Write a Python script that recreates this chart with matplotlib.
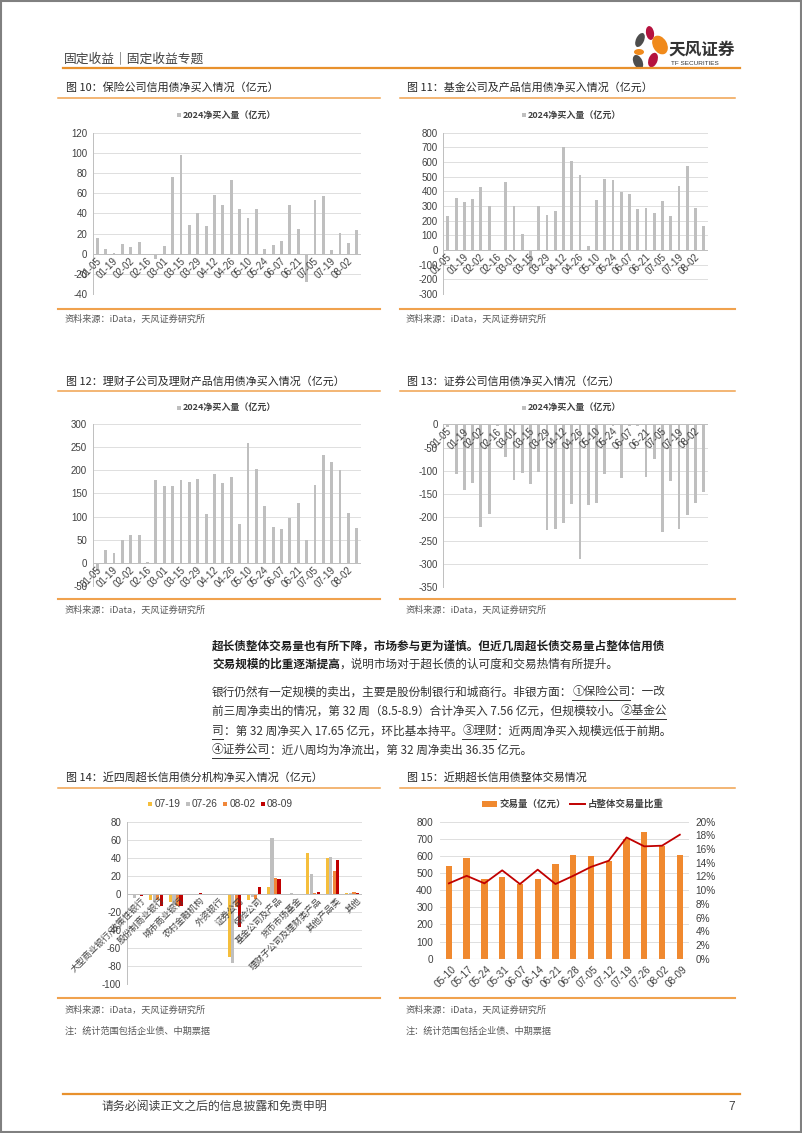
#!/usr/bin/env python3
from __future__ import annotations

import matplotlib

matplotlib.use("Agg")
import matplotlib.pyplot as plt
import matplotlib.transforms as mtransforms
import numpy as np
from matplotlib.font_manager import FontProperties
from matplotlib.patches import Ellipse, Rectangle

W, H = 802, 1133
CJK = ["Noto Sans CJK SC", "DejaVu Sans"]
NUM = ["Liberation Sans", "DejaVu Sans"]

ORANGE_LINE = "#F0A24E"
ORANGE_DARK = "#E8912D"
BAR_GRAY = "#BFBFBF"
GRID = "#D9D9D9"
AXIS = "#BFBFBF"
TICK = "#404040"

# weekly data, 2024
weeks = ["01-05", "01-12", "01-19", "01-26", "02-02", "02-09", "02-16", "02-23",
         "03-01", "03-08", "03-15", "03-22", "03-29", "04-05", "04-12", "04-19",
         "04-26", "05-03", "05-10", "05-17", "05-24", "05-31", "06-07", "06-14",
         "06-21", "06-28", "07-05", "07-12", "07-19", "07-26", "08-02", "08-09"]
insurance = [16, 5, 0.3, 9.6, 7, 12, 0, -5.5, 8, 76, 98, 28, 40.5, 27.5, 58, 48,
             73.5, 44, 35.5, 44.5, 5, 8.5, 12.5, 48.5, 24, -28, 53, 57.5, 3.5, 20.5, 10.5, 23]
fund = [232, 355, 327, 348, 427, 302, 0, 466, 302, 111, -120, 300, 236, 268, 705, 609,
        509, 30, 341, 482, 480, 395, 382, 277, 286, 252, 336, 232, 436, 573, 284, 164]
wealth = [-17, 28, 21, 49, 60, 60, 1, 180, 165, 165, 180, 175, 182, 105, 193, 172,
          185, 83, 260, 202, 123, 78, 74, 97, 129, 49, 169, 234, 218, 200, 108, 75]
broker = [-5, -107, -141, -125, -220, -193, -3, -71, -120, -105, -128, -103, -227, -225, -213, -171,
          -289, -173, -170, -107, -3, -115, -3, -3, -114, -75, -232, -121, -225, -195, -168, -145]

# figure 14: last four weeks by institution
institutions = ["大型商业银行/政策性银行", "股份制商业银行", "城市商业银行", "农村金融机构",
                "外资银行", "证券公司", "保险公司", "基金公司及产品", "货币市场基金",
                "理财子公司及理财类产品", "其他产品类", "其他"]
recent_weeks = ["07-19", "07-26", "08-02", "08-09"]
net_0719 = [0, -7, -9, 0, 0, -70, -7, 8, 0, 45, 40, 0.5]
net_0726 = [-5, -9, -12, 0, 0, -77, -3, 62, 0.5, 22, 41, 0.5]
net_0802 = [-1, -7, -14, 0, 0, -15, -6, 18, 0.3, 1, 25, 1.5]
net_0809 = [-2.5, -14, -13, 0.5, 0.3, -37, 7.5, 17, 0.3, 1.5, 38, 1]
recent_colors = ["#F5BE3C", "#BFBFBF", "#F0873A", "#C00000"]

# figure 15: overall ultra-long credit trading
weeks15 = ["05-10", "05-17", "05-24", "05-31", "06-07", "06-14", "06-21",
           "06-28", "07-05", "07-12", "07-19", "07-26", "08-02", "08-09"]
volume = [543, 590, 465, 480, 438, 463, 552, 603, 601, 570, 700, 737, 658, 605]
share = [11.0, 12.1, 11.0, 12.9, 10.9, 13.0, 10.9, 12.1, 13.4, 14.3, 17.7, 16.4, 16.5, 18.1]


def px_axes(fig, left: float, top: float, right: float, bottom: float):
    return fig.add_axes([left / W, 1 - bottom / H, (right - left) / W, (bottom - top) / H])


def style_value_axis(ax, ticks, labels, size=7.0, pad=4):
    ax.set_yticks(ticks)
    ax.set_yticklabels(labels, fontfamily=NUM, fontsize=size, color=TICK)
    ax.tick_params(axis="y", length=0, pad=pad)
    ax.set_xticks([])
    ax.grid(axis="y", color=GRID, lw=0.6)
    ax.set_axisbelow(True)
    for side in ("top", "right", "bottom"):
        ax.spines[side].set_visible(False)
    ax.spines["left"].set_color(AXIS)
    ax.spines["left"].set_linewidth(0.7)


def weekly_chart(fig, box, values, ylim, ystep):
    ax = px_axes(fig, *box)
    x = np.arange(len(values))
    ax.bar(x, values, width=0.34, color=BAR_GRAY, zorder=2)
    ax.set_xlim(-0.55, len(values) - 0.5)
    ax.set_ylim(*ylim)
    ticks = np.arange(ylim[0], ylim[1] + ystep / 2, ystep)
    style_value_axis(ax, ticks, [f"{t:g}" for t in ticks])
    ax.axhline(0, color=AXIS, lw=0.7, zorder=3)
    offs = mtransforms.offset_copy(ax.transData, fig=fig, x=-1, y=-2, units="dots")
    for i in range(0, len(values), 2):
        ax.text(i, 0, weeks[i], transform=offs, rotation=45, ha="right", va="top",
                rotation_mode="anchor", fontsize=7, fontfamily=NUM, color=TICK, zorder=4)
    return ax


def legend_square(page, x, y, color, label, size=6.5, w=4.0, h=4.0, bold=True):
    page.add_patch(Rectangle((x, y - h / 2), w, h, color=color, lw=0))
    page.text(x + w + 2, y, label, va="center", ha="left", fontsize=size, fontfamily=CJK,
              color=TICK, fontweight="bold" if bold else "normal")


def text_advance(renderer, s: str, prop: FontProperties) -> float:
    probe = "口"
    w_all, _, _ = renderer.get_text_width_height_descent(s + probe, prop, ismath=False)
    w_probe, _, _ = renderer.get_text_width_height_descent(probe, prop, ismath=False)
    return w_all - w_probe


def draw_runs(page, renderer, x, y, runs, size=8.4):
    cursor = x
    for text, bold, underline in runs:
        prop = FontProperties(family=CJK, size=size, weight="bold" if bold else "normal")
        page.text(cursor, y + 4.3, text, fontproperties=prop, ha="left", va="baseline",
                  color="#1f1f1f" if bold else "#333333")
        adv = text_advance(renderer, text, prop)
        if underline:
            page.plot([cursor, cursor + adv - 1], [y + 8.5, y + 8.5], color="#333333", lw=0.7)
        cursor += adv


def draw_page(fig, page):
    page.add_patch(Rectangle((0.75, 0.75), W - 1.5, H - 1.5, fill=False, ec="#808080", lw=1.5))
    # header
    page.text(64, 59, "固定收益｜固定收益专题", fontsize=9.2, fontfamily=CJK, color="#404040", va="center")
    page.plot([63, 740], [68.3, 68.3], color=ORANGE_DARK, lw=1.6)
    petals = [((640, 40), 8, 15, 25, "#4D4D4D"), ((650, 33), 8, 14, -10, "#B5123E"),
              ((660, 45), 14, 20, -30, "#F08A1C"), ((639, 52), 10, 6, 0, "#F08A1C"),
              ((638, 62), 9, 15, -25, "#4D4D4D"), ((653, 60), 9, 15, 20, "#B5123E")]
    for center, w, h, ang, col in petals:
        page.add_patch(Ellipse(center, w, h, angle=ang, color=col, lw=0))
    page.text(668, 50, "天风证券", fontsize=12, fontweight="bold", fontfamily=CJK, color="#333333", va="center")
    page.text(671, 63.5, "TF SECURITIES", fontsize=4.6, fontfamily=NUM, color="#333333", va="center")
    # footer
    page.plot([63, 740], [1094, 1094], color=ORANGE_DARK, lw=1.6)
    page.text(102, 1106.5, "请务必阅读正文之后的信息披露和免责申明", fontsize=8.6, fontfamily=CJK,
              color="#404040", va="center")
    page.text(728, 1106.5, "7", fontsize=8.6, fontfamily=NUM, color="#404040", va="center")

    titles = [
        (66, 87, 97.7, 308.7, 319.5, None, "图 10：保险公司信用债净买入情况（亿元）", "left"),
        (407, 87, 97.7, 308.7, 319.5, None, "图 11：基金公司及产品信用债净买入情况（亿元）", "right"),
        (66, 381, 391, 599, 610, None, "图 12：理财子公司及理财产品信用债净买入情况（亿元）", "left"),
        (407, 381, 391, 599, 610, None, "图 13：证券公司信用债净买入情况（亿元）", "right"),
        (66, 777.7, 788.3, 998, 1010, 1031, "图 14：近四周超长信用债分机构净买入情况（亿元）", "left"),
        (407, 777.7, 788.3, 998, 1010, 1031, "图 15：近期超长信用债整体交易情况", "right"),
    ]
    for x, ty, ly, by, sy, ny, title, side in titles:
        x0, x1 = (58, 380) if side == "left" else (400, 735)
        page.text(x, ty, title, fontsize=7.9, fontfamily=CJK, color="#262626", va="center")
        page.plot([x0, x1], [ly, ly], color=ORANGE_LINE, lw=1.1)
        page.plot([x0, x1], [by, by], color=ORANGE_LINE, lw=1.5)
        page.text(x - 1, sy, "资料来源：iData，天风证券研究所", fontsize=6.6, fontfamily=CJK,
                  color="#595959", va="center")
        if ny is not None:
            page.text(x - 1, ny, "注：统计范围包括企业债、中期票据", fontsize=6.6, fontfamily=CJK,
                      color="#595959", va="center")

    # legends for weekly charts
    for lx, ly in [(177, 115), (522, 115), (177, 407.7), (522, 407.7)]:
        legend_square(page, lx, ly, BAR_GRAY, "2024净买入量（亿元）")
    for i, (lx, label) in enumerate(zip([148, 185.5, 223, 260.5], recent_weeks)):
        page.add_patch(Rectangle((lx, 804 - 2.2), 4.4, 4.4, color=recent_colors[i], lw=0))
        page.text(lx + 6.5, 804, label, fontsize=7.3, fontfamily=NUM, color=TICK, va="center")
    page.add_patch(Rectangle((482, 804 - 2.8), 15, 5.6, color="#F0892F", lw=0))
    page.text(500, 804, "交易量（亿元）", fontsize=6.8, fontweight="bold", fontfamily=CJK, color=TICK, va="center")
    page.plot([570, 585], [804, 804], color="#C00000", lw=1.4)
    page.text(588, 804, "占整体交易量比重", fontsize=6.8, fontweight="bold", fontfamily=CJK, color=TICK, va="center")


def draw_paragraphs(fig, page):
    renderer = fig.canvas.get_renderer()
    x0 = 212
    lines = [
        (645, [("超长债整体交易量也有所下降，市场参与更为谨慎。但近几周超长债交易量占整体信用债", True, False)]),
        (663.3, [("交易规模的比重逐渐提高", True, False),
                 ("，说明市场对于超长债的认可度和交易热情有所提升。", False, False)]),
        (691, [("银行仍然有一定规模的卖出，主要是股份制银行和城商行。非银方面：", False, False),
               ("①保险公司", False, True), ("：一改", False, False)]),
        (710, [("前三周净卖出的情况，第 32 周（8.5-8.9）合计净买入 7.56 亿元，但规模较小。", False, False),
               ("②基金公", False, True)]),
        (730, [("司", False, True), ("：第 32 周净买入 17.65 亿元，环比基本持平。", False, False),
               ("③理财", False, True), ("：近两周净买入规模远低于前期。", False, False)]),
        (749, [("④证券公司", False, True), ("：近八周均为净流出，第 32 周净卖出 36.35 亿元。", False, False)]),
    ]
    for y, runs in lines:
        draw_runs(page, renderer, x0, y, runs)


def draw_recent_chart(fig):
    ax = px_axes(fig, 126.7, 821.7, 362, 984)
    x = np.arange(len(institutions))
    series = [net_0719, net_0726, net_0802, net_0809]
    offsets = [-0.27, -0.09, 0.09, 0.27]
    for vals, off, col in zip(series, offsets, recent_colors):
        ax.bar(x + off, vals, width=0.16, color=col, zorder=2)
    ax.set_xlim(-0.5, len(institutions) - 0.5)
    ax.set_ylim(-100, 80)
    ticks = np.arange(-100, 81, 20)
    style_value_axis(ax, ticks, [f"{t:g}" for t in ticks], size=7.0, pad=4)
    ax.axhline(0, color=AXIS, lw=0.7, zorder=3)
    offs = mtransforms.offset_copy(ax.transData, fig=fig, x=4, y=-2, units="dots")
    for i, name in enumerate(institutions):
        ax.text(i, 0, name, transform=offs, rotation=45, ha="right", va="top",
                rotation_mode="anchor", fontsize=6.4, fontfamily=CJK, color=TICK, zorder=4)


def draw_volume_chart(fig):
    ax = px_axes(fig, 440, 821.7, 688.7, 958.7)
    x = np.arange(len(weeks15))
    ax.bar(x, volume, width=0.36, color="#F0892F", zorder=2)
    ax.set_xlim(-0.5, len(weeks15) - 0.5)
    ax.set_ylim(0, 800)
    ticks = np.arange(0, 801, 100)
    style_value_axis(ax, ticks, [f"{t:g}" for t in ticks], size=7.2, pad=5)
    ax.spines["left"].set_visible(False)
    ax.axhline(0, color=AXIS, lw=0.8, zorder=3)
    offs = mtransforms.offset_copy(ax.transData, fig=fig, x=2, y=-5, units="dots")
    for i, lab in enumerate(weeks15):
        ax.text(i, 0, lab, transform=offs, rotation=45, ha="right", va="top",
                rotation_mode="anchor", fontsize=7.2, fontfamily=NUM, color=TICK)
    ax2 = ax.twinx()
    ax2.plot(x, share, color="#C00000", lw=1.3, zorder=4)
    ax2.set_ylim(0, 20)
    rt = np.arange(0, 21, 2)
    ax2.set_yticks(rt)
    ax2.set_yticklabels([f"{t}%" for t in rt], fontfamily=NUM, fontsize=7.2, color=TICK)
    ax2.tick_params(axis="y", length=0, pad=5)
    for side in ("top", "right", "bottom", "left"):
        ax2.spines[side].set_visible(False)


def main() -> None:
    plt.rcParams["font.family"] = CJK
    fig = plt.figure(figsize=(W / 100, H / 100), dpi=100)
    page = fig.add_axes([0, 0, 1, 1])
    page.set_xlim(0, W)
    page.set_ylim(H, 0)
    page.axis("off")

    draw_page(fig, page)
    draw_paragraphs(fig, page)

    weekly_chart(fig, (92.7, 132.7, 361, 294), insurance, (-40, 120), 20)
    weekly_chart(fig, (443.3, 132.7, 708, 294), fund, (-300, 800), 100)
    weekly_chart(fig, (92.7, 424, 361, 586), wealth, (-50, 300), 50)
    weekly_chart(fig, (443.3, 424.3, 708, 587.3), broker, (-350, 0), 50)
    draw_recent_chart(fig)
    draw_volume_chart(fig)

    fig.savefig("out.png", dpi=100, facecolor="white")
    plt.close(fig)


if __name__ == "__main__":
    main()
